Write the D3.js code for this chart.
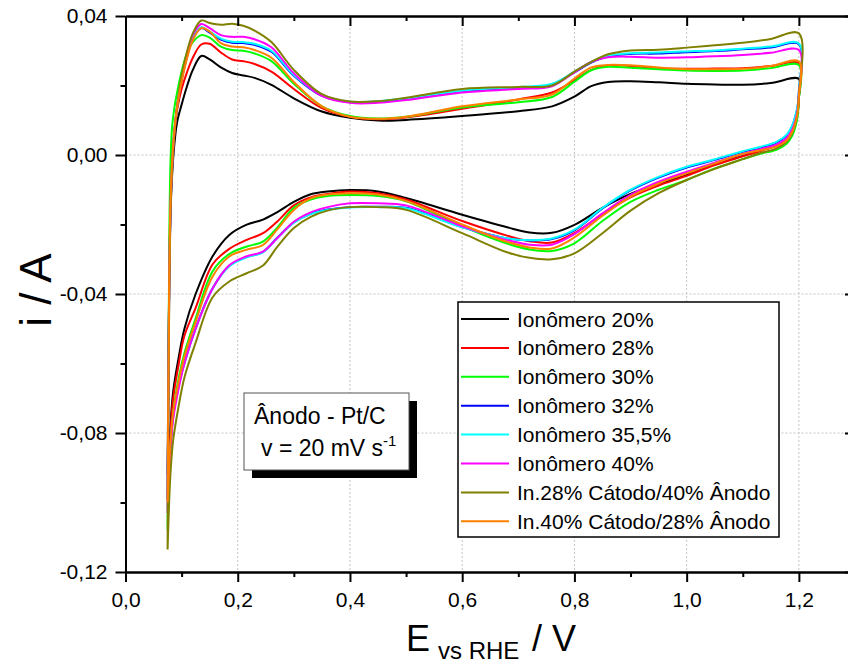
<!DOCTYPE html>
<html>
<head>
<meta charset="utf-8">
<script src="https://cdn.jsdelivr.net/npm/d3@7"></script>
<style>
  body { margin: 0; background: #fff; }
  svg text { font-family: "Liberation Sans", Arial, sans-serif; fill: #000; }
</style>
</head>
<body>
<div class="cv"></div>
<script>
// potential grids (V vs RHE), forward and backward sweep
const potAnodic = [0.075, 0.0765, 0.078, 0.08, 0.083, 0.087, 0.092, 0.1, 0.11, 0.12, 0.135, 0.15, 0.17, 0.19, 0.21, 0.23, 0.26, 0.3, 0.35, 0.4, 0.45, 0.5, 0.6, 0.7, 0.76, 0.8, 0.83, 0.86, 0.9, 0.95, 1.0, 1.05, 1.1, 1.15, 1.2];
const potCathodic = [1.2, 1.198, 1.194, 1.188, 1.178, 1.16, 1.13, 1.1, 1.05, 1.0, 0.95, 0.9, 0.85, 0.8, 0.76, 0.72, 0.68, 0.6, 0.5, 0.45, 0.4, 0.36, 0.33, 0.3, 0.27, 0.245, 0.215, 0.185, 0.155, 0.125, 0.105, 0.095, 0.085, 0.08, 0.075];

// currents (A)
const ano20 = [-0.092, -0.06, -0.035, -0.018, -0.006, 0.003, 0.0095, 0.0145, 0.020, 0.0245, 0.0285, 0.0275, 0.0252, 0.0236, 0.0229, 0.0222, 0.0202, 0.0163, 0.0125, 0.0107, 0.0099, 0.0101, 0.0112, 0.0126, 0.014, 0.0168, 0.0198, 0.021, 0.0212, 0.0209, 0.0205, 0.0203, 0.0202, 0.0207, 0.0219];
const cat20 = [0.0165, 0.0125, 0.0095, 0.0068, 0.0045, 0.0028, 0.0013, -0.0002, -0.0026, -0.0057, -0.0083, -0.0112, -0.0152, -0.0201, -0.0224, -0.0223, -0.0208, -0.0172, -0.0124, -0.0105, -0.0101, -0.0105, -0.0113, -0.0135, -0.0165, -0.0186, -0.0201, -0.0230, -0.0292, -0.0400, -0.0500, -0.0580, -0.0680, -0.0780, -0.092];

const ano28 = [-0.098, -0.062, -0.033, -0.015, -0.003, 0.006, 0.013, 0.019, 0.024, 0.028, 0.0318, 0.0320, 0.0295, 0.0275, 0.0270, 0.0262, 0.0240, 0.0190, 0.0135, 0.0110, 0.0103, 0.0108, 0.0133, 0.0160, 0.0180, 0.0215, 0.0245, 0.0258, 0.0256, 0.0250, 0.0248, 0.0249, 0.0250, 0.0256, 0.0264];
const cat28 = [0.0170, 0.0128, 0.0097, 0.0070, 0.0045, 0.0027, 0.0011, -0.0004, -0.0029, -0.0060, -0.0088, -0.0122, -0.0170, -0.0225, -0.0252, -0.0248, -0.0232, -0.0190, -0.0128, -0.0110, -0.0105, -0.0112, -0.0122, -0.0145, -0.0192, -0.0225, -0.0245, -0.0270, -0.0315, -0.0440, -0.0520, -0.0600, -0.0700, -0.0800, -0.098];

const ano30 = [-0.108, -0.06, -0.025, -0.003, 0.008, 0.0135, 0.018, 0.024, 0.0295, 0.0325, 0.0345, 0.0338, 0.0312, 0.0302, 0.0300, 0.0292, 0.0270, 0.0205, 0.0140, 0.0112, 0.0105, 0.0110, 0.0137, 0.0152, 0.0167, 0.0211, 0.0244, 0.0254, 0.0251, 0.0247, 0.0243, 0.0242, 0.0243, 0.0250, 0.0259];
const cat30 = [0.0160, 0.0115, 0.0082, 0.0055, 0.0032, 0.0015, 0.0003, -0.0012, -0.0039, -0.0072, -0.0100, -0.0135, -0.0190, -0.0254, -0.0276, -0.0272, -0.0255, -0.0205, -0.0133, -0.0118, -0.0115, -0.0118, -0.0128, -0.0152, -0.0210, -0.0249, -0.0264, -0.0285, -0.0335, -0.0470, -0.0570, -0.0640, -0.0740, -0.0850, -0.108];

const ano32 = [-0.099, -0.065, -0.035, -0.016, -0.003, 0.007, 0.014, 0.0215, 0.0285, 0.0335, 0.0365, 0.0352, 0.0332, 0.0323, 0.0322, 0.0317, 0.0297, 0.0228, 0.0170, 0.0152, 0.0153, 0.0161, 0.0183, 0.0193, 0.0203, 0.0238, 0.0266, 0.0284, 0.0291, 0.0292, 0.0296, 0.0299, 0.0304, 0.0309, 0.0319];
const cat32 = [0.0183, 0.0143, 0.0112, 0.0083, 0.0056, 0.0036, 0.0021, 0.0009, -0.0014, -0.0036, -0.0065, -0.0102, -0.0154, -0.0217, -0.0242, -0.0246, -0.0240, -0.0207, -0.0152, -0.0149, -0.0150, -0.0157, -0.0169, -0.0194, -0.0239, -0.0279, -0.0294, -0.0319, -0.0384, -0.0498, -0.0598, -0.0660, -0.0750, -0.0840, -0.099];

const ano355 = [-0.100, -0.066, -0.036, -0.016, -0.003, 0.007, 0.014, 0.022, 0.029, 0.034, 0.0368, 0.0355, 0.0335, 0.0326, 0.0325, 0.0320, 0.0300, 0.0230, 0.0172, 0.0153, 0.0155, 0.0163, 0.0185, 0.0195, 0.0205, 0.0240, 0.0268, 0.0286, 0.0293, 0.0295, 0.0298, 0.0301, 0.0306, 0.0312, 0.0321];
const cat355 = [0.0185, 0.0145, 0.0115, 0.0085, 0.0058, 0.0038, 0.0023, 0.0011, -0.0012, -0.0034, -0.0063, -0.0100, -0.0152, -0.0215, -0.0240, -0.0245, -0.0240, -0.0208, -0.0153, -0.0150, -0.0151, -0.0158, -0.0170, -0.0195, -0.0240, -0.0280, -0.0295, -0.0320, -0.0385, -0.0500, -0.0600, -0.0660, -0.0750, -0.0840, -0.100];

const ano40 = [-0.103, -0.067, -0.037, -0.017, -0.004, 0.006, 0.014, 0.022, 0.029, 0.0345, 0.0377, 0.0365, 0.0345, 0.0340, 0.0340, 0.0333, 0.0310, 0.0235, 0.0170, 0.0150, 0.0150, 0.0158, 0.0180, 0.0190, 0.0198, 0.0238, 0.0268, 0.0281, 0.0283, 0.0280, 0.0281, 0.0284, 0.0288, 0.0294, 0.0302];
const cat40 = [0.0175, 0.0133, 0.0101, 0.0073, 0.0048, 0.0030, 0.0016, 0.0003, -0.0022, -0.0048, -0.0077, -0.0115, -0.0168, -0.0228, -0.0258, -0.0258, -0.0245, -0.0205, -0.0145, -0.0139, -0.0139, -0.0150, -0.0165, -0.0192, -0.0240, -0.0278, -0.0292, -0.0317, -0.0385, -0.0500, -0.0600, -0.0670, -0.0760, -0.0850, -0.103];

const anoC28A40 = [-0.1135, -0.07, -0.04, -0.018, -0.004, 0.006, 0.014, 0.023, 0.030, 0.035, 0.0387, 0.0380, 0.0375, 0.0378, 0.0372, 0.0358, 0.0325, 0.0245, 0.0175, 0.0154, 0.0155, 0.0165, 0.0190, 0.0196, 0.0200, 0.0240, 0.0268, 0.0290, 0.0301, 0.0303, 0.0309, 0.0316, 0.0323, 0.0334, 0.0350];
const catC28A40 = [0.0170, 0.0125, 0.0092, 0.0063, 0.0038, 0.0019, 0.0005, -0.0012, -0.0040, -0.0072, -0.0110, -0.0160, -0.0225, -0.0283, -0.0300, -0.0296, -0.0280, -0.0225, -0.0158, -0.0150, -0.0150, -0.0160, -0.0178, -0.0210, -0.0265, -0.0318, -0.0341, -0.0364, -0.0410, -0.0540, -0.0640, -0.0720, -0.0820, -0.0920, -0.1135];

const anoC40A28 = [-0.100, -0.065, -0.034, -0.014, -0.002, 0.007, 0.014, 0.021, 0.028, 0.033, 0.0365, 0.0355, 0.0322, 0.0312, 0.0310, 0.0302, 0.0280, 0.0210, 0.0140, 0.0110, 0.0104, 0.0110, 0.0140, 0.0160, 0.0174, 0.0220, 0.0252, 0.0259, 0.0258, 0.0252, 0.0247, 0.0247, 0.0248, 0.0256, 0.0269];
const catC40A28 = [0.0168, 0.0126, 0.0094, 0.0066, 0.0042, 0.0025, 0.0013, 0.0003, -0.0024, -0.0053, -0.0082, -0.0120, -0.0175, -0.0237, -0.0269, -0.0266, -0.0250, -0.0200, -0.0132, -0.0114, -0.0110, -0.0114, -0.0125, -0.0158, -0.0215, -0.0259, -0.0273, -0.0292, -0.0350, -0.0480, -0.0580, -0.0650, -0.0740, -0.0830, -0.100];

const legendNames = ["Ionômero 20%", "Ionômero 28%", "Ionômero 30%", "Ionômero 32%", "Ionômero 35,5%", "Ionômero 40%", "In.28% Cátodo/40% Ânodo", "In.40% Cátodo/28% Ânodo"];
const lineColors = ["#000000", "#ff0000", "#00ff00", "#0000ff", "#00ffff", "#ff00ff", "#808000", "#ff8000"];
const anodicSets = [ano20, ano28, ano30, ano32, ano355, ano40, anoC28A40, anoC40A28];
const cathodicSets = [cat20, cat28, cat30, cat32, cat355, cat40, catC28A40, catC40A28];

const xMajor = [0, 0.2, 0.4, 0.6, 0.8, 1.0, 1.2];
const xMinor = [0.1, 0.3, 0.5, 0.7, 0.9, 1.1];
const yMajor = [-0.12, -0.08, -0.04, 0.00, 0.04];
const yMinor = [-0.10, -0.06, -0.02, 0.02];

const width = 848, height = 665;
const mLeft = 125.5, mRight = 855, mTop = 16, mBottom = 572;

const loc = d3.formatLocale({ decimal: ",", thousands: ".", grouping: [3], currency: ["", ""], minus: "-" });
const fx = loc.format(".1f"), fy = loc.format(".2f");

const svg = d3.select('.cv').append('svg').attr('width', width).attr('height', height);

const x = d3.scaleLinear().domain([0, 1.3]).range([mLeft, mRight]);
const y = d3.scaleLinear().domain([-0.12, 0.04]).range([mBottom, mTop]);

// grid
const grid = svg.append('g').attr('stroke', '#c4c4c4').attr('stroke-width', 1).attr('stroke-dasharray', '2,2');
grid.selectAll('.gx').data(xMajor.filter(d => d > 0)).join('line')
  .attr('x1', d => x(d)).attr('x2', d => x(d)).attr('y1', mTop).attr('y2', mBottom);
grid.selectAll('.gy').data(yMajor.filter(d => d > -0.12 && d < 0.04)).join('line')
  .attr('x1', mLeft).attr('x2', mRight).attr('y1', d => y(d)).attr('y2', d => y(d));

// curves
const line = d3.line()
  .x(d => x(d[0]))
  .y(d => y(d[1]))
  .curve(d3.curveCatmullRom.alpha(0.5));

const series = legendNames.map((name, k) => ({
  name: name,
  color: lineColors[k],
  pts: anodicSets[k].map((v, i) => [potAnodic[i], v])
    .concat(cathodicSets[k].map((v, i) => [potCathodic[i], v]))
}));

svg.append('g').selectAll('path').data(series).join('path')
  .attr('d', d => line(d.pts))
  .attr('fill', 'none')
  .attr('stroke', d => d.color)
  .attr('stroke-width', 2)
  .attr('stroke-linejoin', 'round');

// axes
function styleAxis(g) {
  g.select('.domain').attr('stroke-width', 2);
  g.selectAll('.tick line').attr('stroke-width', 2);
  g.selectAll('.tick text').attr('font-size', 21).attr('font-family', '"Liberation Sans", Arial, sans-serif');
}

svg.append('g').attr('transform', `translate(0,${mBottom})`)
  .call(d3.axisBottom(x).tickValues(xMajor).tickFormat(fx).tickSize(10).tickSizeOuter(0).tickPadding(10))
  .call(styleAxis);
svg.append('g').attr('transform', `translate(0,${mBottom})`)
  .call(d3.axisBottom(x).tickValues(xMinor).tickFormat('').tickSize(5).tickSizeOuter(0))
  .call(styleAxis);

svg.append('g').attr('transform', `translate(0,${mTop})`)
  .call(d3.axisTop(x).tickValues(xMajor).tickFormat('').tickSize(-10).tickSizeOuter(0))
  .call(styleAxis);
svg.append('g').attr('transform', `translate(0,${mTop})`)
  .call(d3.axisTop(x).tickValues(xMinor).tickFormat('').tickSize(-5).tickSizeOuter(0))
  .call(styleAxis);

svg.append('g').attr('transform', `translate(${mLeft},0)`)
  .call(d3.axisLeft(y).tickValues(yMajor).tickFormat(fy).tickSize(10).tickSizeOuter(0).tickPadding(8))
  .call(styleAxis);
svg.append('g').attr('transform', `translate(${mLeft},0)`)
  .call(d3.axisLeft(y).tickValues(yMinor).tickFormat('').tickSize(5).tickSizeOuter(0))
  .call(styleAxis);

svg.append('g').attr('transform', `translate(${mRight},0)`)
  .call(d3.axisRight(y).tickValues(yMajor).tickFormat('').tickSize(-10).tickSizeOuter(0))
  .call(styleAxis);

// axis titles
const xt = svg.append('text').attr('y', 651).attr('font-size', 36);
xt.append('tspan').attr('x', 406).text('E');
xt.append('tspan').attr('x', 438).attr('dy', 8).attr('font-size', 24).text('vs RHE');
xt.append('tspan').attr('x', 532).attr('dy', -8).text('/ V');

svg.append('text')
  .attr('transform', `translate(51,290) rotate(-90)`)
  .attr('text-anchor', 'middle')
  .attr('font-size', 44)
  .text('i / A');

// legend
const lg = svg.append('g');
lg.append('rect').attr('x', 458).attr('y', 302).attr('width', 321).attr('height', 235)
  .attr('fill', '#fff').attr('stroke', '#000').attr('stroke-width', 1.5);
const rows = lg.selectAll('.row').data(series).join('g')
  .attr('transform', (d, i) => `translate(461,${319 + i * 28.9})`);
rows.append('line').attr('x1', 0).attr('x2', 48).attr('stroke', d => d.color).attr('stroke-width', 2);
rows.append('text').attr('x', 56).attr('y', 7.5).attr('font-size', 21).text(d => d.name);

// annotation box with shadow
const note = svg.append('g');
note.append('rect').attr('x', 252).attr('y', 401).attr('width', 165).attr('height', 77).attr('fill', '#000');
note.append('rect').attr('x', 244).attr('y', 393).attr('width', 165).attr('height', 77)
  .attr('fill', '#fff').attr('stroke', '#555').attr('stroke-width', 1);
note.append('text').attr('x', 254).attr('y', 424).attr('font-size', 23).text('Ânodo - Pt/C');
const vt = note.append('text').attr('x', 261).attr('y', 456).attr('font-size', 23);
vt.append('tspan').text('v = 20 mV s');
vt.append('tspan').attr('dy', -10).attr('font-size', 15).text('-1');
</script>
</body>
</html>
